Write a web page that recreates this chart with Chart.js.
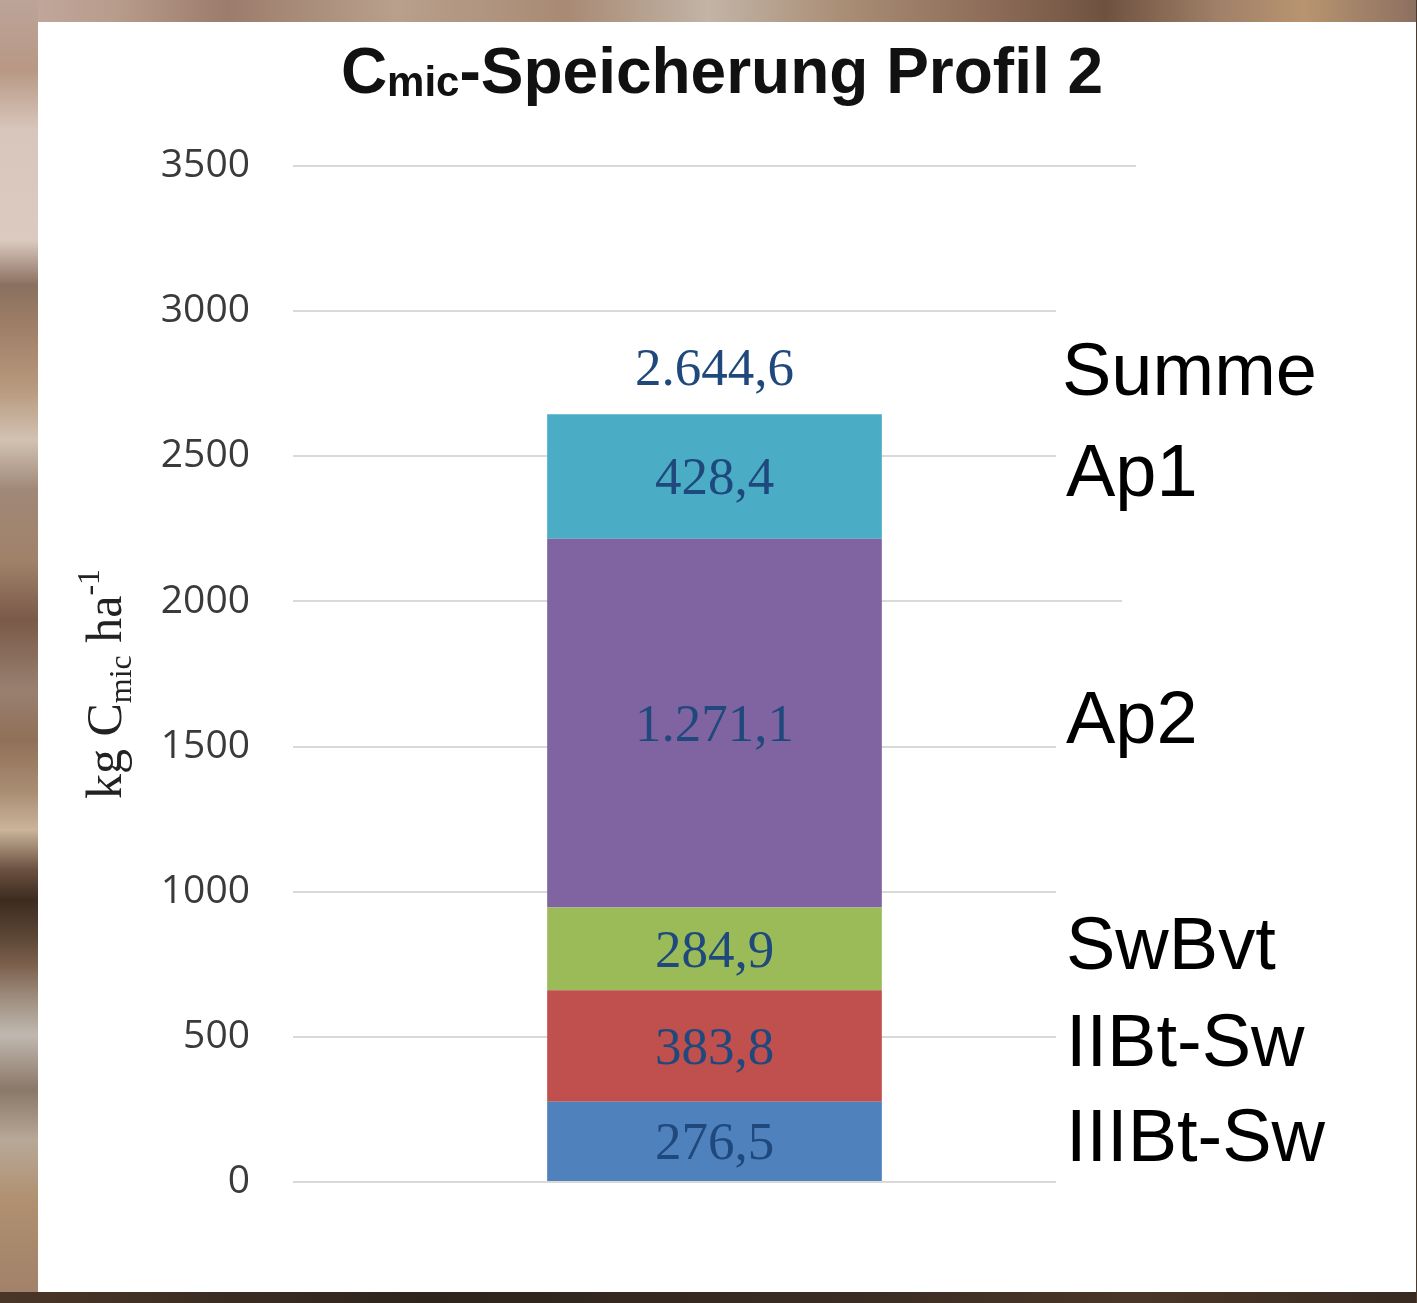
<!DOCTYPE html>
<html>
<head>
<meta charset="utf-8">
<script src="https://cdn.jsdelivr.net/npm/chart.js@4.4.1/dist/chart.umd.min.js"></script>
<style>
  html, body { margin: 0; padding: 0; }
  body { width: 1417px; height: 1303px; position: relative; overflow: hidden; background: #a08878; }
  .bgTop { position: absolute; left: 0; top: 0; width: 1417px; height: 22px;
    background: linear-gradient(to right, #c4aca2 0%, #b89c8c 8%, #9c7c6c 16%, #b8a08c 28%, #a88a74 40%, #c2b4a6 50%, #a88c74 60%, #8c6c58 70%, #6e5240 78%, #a08068 86%, #b89470 92%, #8c7060 100%); }
  .bgLeft { position: absolute; left: 0; top: 0; width: 38px; height: 1303px;
    background: linear-gradient(to bottom, #bca49a 0px, #b89884 70px, #d8c6bc 130px, #dccac0 240px, #8a7060 285px, #a08068 330px, #b89a7e 390px, #d2c2b2 440px, #a08878 490px, #a0826a 560px, #7a5a48 620px, #988070 690px, #907058 740px, #a88c72 790px, #cab49a 830px, #6a5040 870px, #3c2c20 900px, #5a4434 935px, #7c604e 965px, #a09080 1000px, #c0b8b0 1035px, #8a7868 1090px, #b8a898 1140px, #b09070 1200px, #a08068 1303px); }
  .bgBottom { position: absolute; left: 0; top: 1292px; width: 1417px; height: 11px;
    background: linear-gradient(to right, #4a3628 0%, #2e241c 30%, #3a2c22 60%, #4a3628 80%, #382a20 100%); }
  .bgRight { position: absolute; left: 1416px; top: 0; width: 1px; height: 1303px; background: #4a3a30; }
  .panel { position: absolute; left: 38px; top: 22px; width: 1378px; height: 1270px; background: #ffffff; }
  #chart { display: block; }
</style>
</head>
<body>
<div class="bgTop"></div>
<div class="bgLeft"></div>
<div class="bgBottom"></div>
<div class="bgRight"></div>
<div class="panel">
  <canvas id="chart" width="1378" height="1270"></canvas>
</div>
<script>
// Horizonte von unten nach oben
const horizonte = ['IIIBt-Sw', 'IIBt-Sw', 'SwBvt', 'Ap2', 'Ap1'];
const werte = [276.5, 383.8, 284.9, 1271.1, 428.4];
const farben = ['#4F81BD', '#C0504D', '#9BBB59', '#8064A2', '#4BACC6'];
const kategorien = ['Profil 2'];
const yTicks = [0, 500, 1000, 1500, 2000, 2500, 3000, 3500];
const summeLabel = 'Summe';
const summeWert = 2644.6;

function deutsch(v) {
  return v.toLocaleString('de-DE', { minimumFractionDigits: 1, maximumFractionDigits: 1 });
}

const datasets = horizonte.map((h, i) => ({
  label: h,
  data: [werte[i]],
  backgroundColor: farben[i],
  borderWidth: 0,
  barPercentage: 0.397,
  categoryPercentage: 1
}));

// Titel, Achsentitel, Wertbeschriftungen und Horizontnamen
const beschriftung = {
  id: 'beschriftung',
  afterDatasetsDraw(chart) {
    const ctx = chart.ctx;
    ctx.save();

    // Werte in den Balken
    ctx.fillStyle = '#1F497D';
    ctx.font = '53px "Liberation Serif", "Times New Roman", serif';
    ctx.textAlign = 'center';
    ctx.textBaseline = 'alphabetic';
    let top = 0;
    chart.data.datasets.forEach((ds, i) => {
      const bar = chart.getDatasetMeta(i).data[0];
      const mid = (bar.y + bar.base) / 2;
      ctx.fillText(deutsch(werte[i]), bar.x, mid + 18);
      top = bar.y;
    });
    const cx = chart.getDatasetMeta(0).data[0].x;
    ctx.fillText(deutsch(summeWert), cx, top - 47 + 18);

    // Horizontnamen rechts
    ctx.font = '74px "Liberation Sans", Arial, Helvetica, sans-serif';
    ctx.textAlign = 'left';
    const lx = 1028;
    const namen = [];
    chart.data.datasets.forEach((ds, i) => {
      const bar = chart.getDatasetMeta(i).data[0];
      namen.push({ t: ds.label, y: (bar.y + bar.base) / 2 + 20 });
    });
    namen.push({ t: summeLabel, y: top - 47 + 28 });
    namen.forEach(n => {
      ctx.fillStyle = '#ffffff';
      ctx.fillRect(lx - 10, n.y - 88, 1378 - lx, 112);
      ctx.fillStyle = '#000000';
      ctx.fillText(n.t, n.t === summeLabel ? lx - 4 : lx, n.y);
    });
    // kurzer Rest der 2000er Linie abdecken wie im Original
    ctx.fillStyle = '#ffffff';
    const y2000 = chart.scales.y.getPixelForValue(2000);
    ctx.fillRect(1084, y2000 - 3, 20, 6);

    // Titel
    ctx.fillStyle = '#111111';
    ctx.textAlign = 'left';
    const tBig = 'bold 64px "Liberation Sans", Arial, Helvetica, sans-serif';
    const tSmall = 'bold 42px "Liberation Sans", Arial, Helvetica, sans-serif';
    ctx.font = tBig;
    const wC = ctx.measureText('C').width;
    const wRest = ctx.measureText('-Speicherung Profil 2').width;
    ctx.font = tSmall;
    const wMic = ctx.measureText('mic').width;
    let tx = 684 - (wC + wMic + wRest) / 2;
    ctx.font = tBig;
    ctx.fillText('C', tx, 71);
    tx += wC;
    ctx.font = tSmall;
    ctx.fillText('mic', tx, 74);
    tx += wMic;
    ctx.font = tBig;
    ctx.fillText('-Speicherung Profil 2', tx, 71);

    // Achsentitel (gedreht)
    ctx.translate(65, 662);
    ctx.rotate(-Math.PI / 2);
    ctx.fillStyle = '#222222';
    const aBig = '50px "Liberation Serif", "Times New Roman", serif';
    const aSmall = '32px "Liberation Serif", "Times New Roman", serif';
    const teile = [
      { t: 'kg C', f: aBig, dy: 0 },
      { t: 'mic', f: aSmall, dy: 10 },
      { t: ' ha', f: aBig, dy: 0 },
      { t: '-1', f: aSmall, dy: -22 }
    ];
    let breite = 0;
    teile.forEach(p => { ctx.font = p.f; p.w = ctx.measureText(p.t).width; breite += p.w; });
    let ax = -breite / 2;
    teile.forEach(p => {
      ctx.font = p.f;
      ctx.fillText(p.t, ax, 18 + p.dy);
      ax += p.w;
    });

    ctx.restore();
  }
};

new Chart(document.getElementById('chart'), {
  type: 'bar',
  data: { labels: kategorien, datasets: datasets },
  options: {
    responsive: false,
    animation: false,
    layout: { padding: { top: 144, right: 280, bottom: 110, left: 0 } },
    plugins: {
      legend: { display: false },
      title: { display: false },
      tooltip: { enabled: false }
    },
    scales: {
      x: {
        stacked: true,
        display: false
      },
      y: {
        stacked: true,
        min: 0,
        max: 3500,
        afterFit(scale) { scale.width = 255; },
        afterBuildTicks(scale) { scale.ticks = yTicks.map(v => ({ value: v })); },
        border: { display: false },
        grid: { color: '#d9d9d9', lineWidth: 2, drawTicks: false },
        ticks: {
          padding: 43,
          color: '#3a3a3a',
          font: { family: '"Open Sans", "Noto Sans", sans-serif', size: 39 },
          callback: (v) => String(v)
        }
      }
    }
  },
  plugins: [beschriftung]
});
</script>
</body>
</html>
